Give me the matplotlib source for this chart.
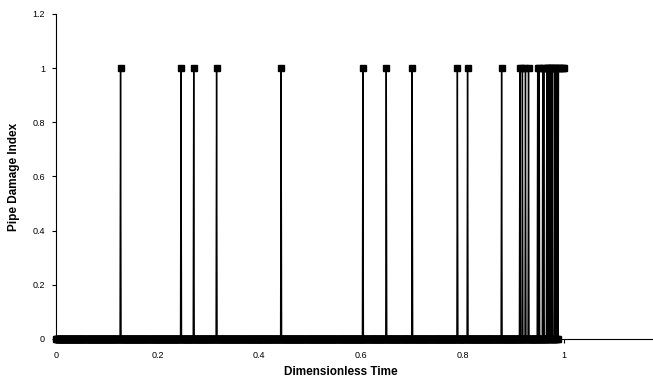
import numpy as np
import matplotlib
matplotlib.use('Agg')
import matplotlib.pyplot as plt

# times where the pipe damage index jumps to 1
event_times = [0.127, 0.246, 0.271, 0.316, 0.443, 0.604, 0.650, 0.701,
               0.790, 0.810, 0.877,
               0.913, 0.918, 0.924, 0.930,
               0.948, 0.951, 0.958, 0.960,
               0.966, 0.968, 0.970, 0.972, 0.974, 0.976,
               0.981, 0.983, 0.985, 0.987, 0.989,
               0.992, 0.995, 0.998, 1.000]
# sampling of the simulation (index is 0 between events)
t_step = 0.001
t_last = 0.988

x_ticks = [0, 0.2, 0.4, 0.6, 0.8, 1]
x_ticklabels = ['0', '0.2', '0.4', '0.6', '0.8', '1']
y_ticks = [0, 0.2, 0.4, 0.6, 0.8, 1, 1.2]
y_ticklabels = ['0', '0.2', '0.4', '0.6', '0.8', '1', '1.2']

plt.rcParams['font.family'] = ['Liberation Sans', 'DejaVu Sans']

base = np.arange(0, t_last + 1e-9, t_step)
# drop baseline samples that coincide with an event
keep = np.min(np.abs(base[:, None] - np.array(event_times)[None, :]), axis=1) > 1e-6
base = base[keep]
t = np.concatenate([base, event_times])
v = np.concatenate([np.zeros(len(base)), np.ones(len(event_times))])
order = np.argsort(t, kind='stable')
t, v = t[order], v[order]

fig = plt.figure(figsize=(6.53, 3.77), dpi=100)
ax = fig.add_axes([0.0858, 0.1008, 0.9142, 0.8622])
ax.plot(t, v, color='black', linewidth=1.0, marker='s', markersize=4.5,
        clip_on=False, zorder=3)

ax.set_xlim(0, 1.175)
ax.set_ylim(0, 1.2)
ax.set_xticks(x_ticks)
ax.set_xticklabels(x_ticklabels)
ax.set_yticks(y_ticks)
ax.set_yticklabels(y_ticklabels)
ax.tick_params(labelsize=6.5, length=3, width=0.8, direction='out')
ax.tick_params(axis='x', pad=5.5)
ax.tick_params(axis='y', pad=5)
for s in ['top', 'right']:
    ax.spines[s].set_visible(False)
ax.spines['left'].set_linewidth(0.8)
ax.spines['bottom'].set_linewidth(0.8)

ax.set_xlabel('Dimensionless Time', fontsize=8.5, fontweight='bold')
ax.set_ylabel('Pipe Damage Index', fontsize=8.5, fontweight='bold')
ax.xaxis.set_label_coords(0.477, -0.083)
ax.yaxis.set_label_coords(-0.060, 0.5)

fig.savefig('out.png', dpi=100)
